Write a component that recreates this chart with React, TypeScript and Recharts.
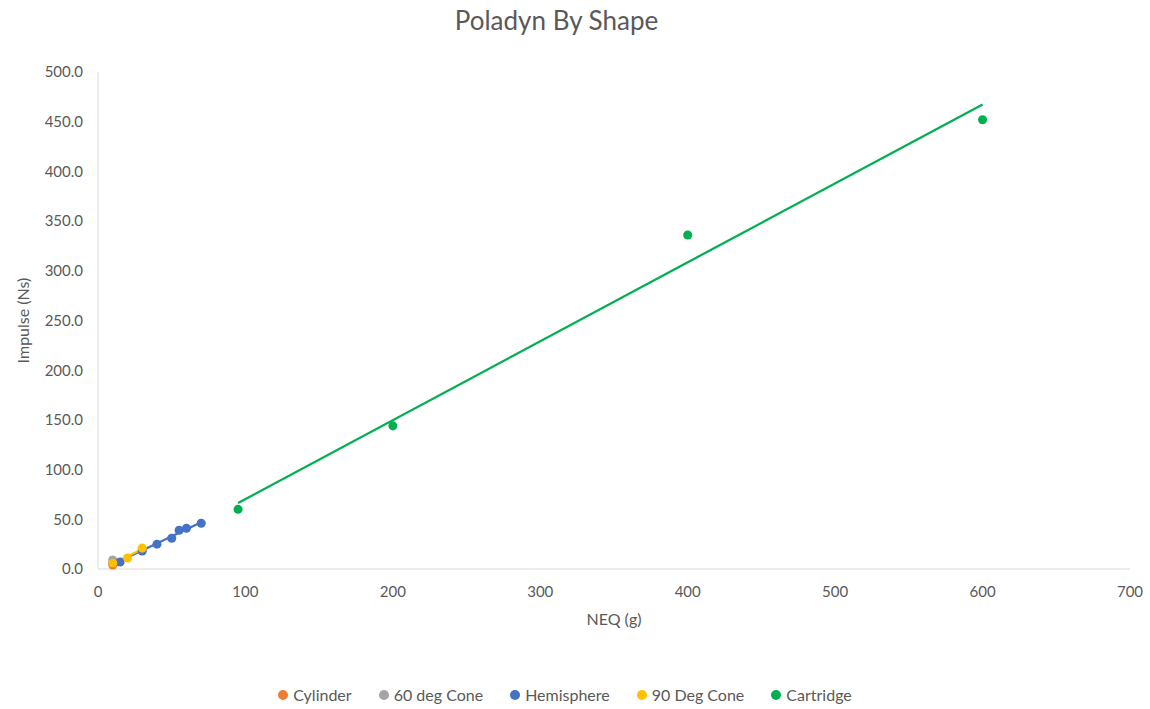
import { ScatterChart, Scatter, XAxis, YAxis, ZAxis, Legend } from 'recharts';

type Pt = { x: number; y: number };

const cylinder: Pt[] = [{ x: 10, y: 4 }];
const cone60: Pt[] = [
  { x: 10, y: 9 },
  { x: 30, y: 19 },
];
const hemisphere: Pt[] = [
  { x: 10, y: 6 },
  { x: 15, y: 7 },
  { x: 30, y: 18 },
  { x: 40, y: 25 },
  { x: 50, y: 31 },
  { x: 55, y: 39 },
  { x: 60, y: 41 },
  { x: 70, y: 46 },
];
const cone90: Pt[] = [
  { x: 10, y: 6 },
  { x: 20, y: 11 },
  { x: 30, y: 21 },
];
const cartridge: Pt[] = [
  { x: 95, y: 60 },
  { x: 200, y: 144 },
  { x: 400, y: 336 },
  { x: 600, y: 452 },
];

const xTicks = [0, 100, 200, 300, 400, 500, 600, 700];
const yTicks = [0, 50, 100, 150, 200, 250, 300, 350, 400, 450, 500];

const FONT = 'Lato, "Liberation Sans", sans-serif';
const TEXT = '#595959';

// linear least-squares trendline across the series' x range
function trend(pts: Pt[]): Pt[] {
  const n = pts.length;
  const mx = pts.reduce((s, p) => s + p.x, 0) / n;
  const my = pts.reduce((s, p) => s + p.y, 0) / n;
  let sxy = 0;
  let sxx = 0;
  pts.forEach(p => {
    sxy += (p.x - mx) * (p.y - my);
    sxx += (p.x - mx) * (p.x - mx);
  });
  const slope = sxy / sxx;
  const b = my - slope * mx;
  const xs = pts.map(p => p.x);
  const lo = Math.min(...xs);
  const hi = Math.max(...xs);
  return [
    { x: lo, y: slope * lo + b },
    { x: hi, y: slope * hi + b },
  ];
}

const series = [
  { name: 'Cylinder', data: cylinder, color: '#ED7D31', trend: false },
  { name: '60 deg Cone', data: cone60, color: '#A5A5A5', trend: false },
  { name: 'Hemisphere', data: hemisphere, color: '#4472C4', trend: true },
  { name: '90 Deg Cone', data: cone90, color: '#FFC000', trend: true },
  { name: 'Cartridge', data: cartridge, color: '#00B050', trend: true },
];

function YLabel({ viewBox }: any) {
  const cy = viewBox.y + viewBox.height / 2;
  const cx = 22;
  return (
    <text
      x={cx}
      y={cy}
      transform={`rotate(-90, ${cx}, ${cy})`}
      textAnchor="middle"
      dominantBaseline="central"
      fill={TEXT}
      fontSize={16}
      fontFamily={FONT}
    >
      Impulse (Ns)
    </text>
  );
}

function LegendContent() {
  return (
    <div style={{ display: 'flex', justifyContent: 'center', gap: 27, fontFamily: FONT, fontSize: 16, color: TEXT }}>
      {series.map(s => (
        <span key={s.name} style={{ display: 'flex', alignItems: 'center', gap: 5 }}>
          <svg width={10} height={10}>
            <circle cx={5} cy={5} r={5} fill={s.color} />
          </svg>
          {s.name}
        </span>
      ))}
    </div>
  );
}

export default function App() {
  return (
    <div style={{ position: 'absolute', left: 0, top: 0, width: 1150, height: 709, background: '#fff' }}>
      <div
        style={{
          position: 'absolute',
          top: 4,
          left: 0,
          width: 1113,
          textAlign: 'center',
          fontFamily: FONT,
          fontSize: 26,
          color: TEXT,
        }}
      >
        Poladyn By Shape
      </div>
      <ScatterChart width={1150} height={709} margin={{ top: 72, right: 20, bottom: 0, left: 0 }}>
        <XAxis
          type="number"
          dataKey="x"
          domain={[0, 700]}
          ticks={xTicks}
          height={116}
          axisLine={{ stroke: '#D9D9D9' }}
          tickLine={false}
          tickSize={0}
          tickMargin={17}
          tick={{ fill: TEXT, fontSize: 15, fontFamily: FONT }}
          label={{ value: 'NEQ (g)', position: 'insideTop', offset: 45, fill: TEXT, fontSize: 16, fontFamily: FONT }}
        />
        <YAxis
          type="number"
          dataKey="y"
          domain={[0, 500]}
          ticks={yTicks}
          width={98}
          axisLine={{ stroke: '#D9D9D9' }}
          tickLine={false}
          tickSize={0}
          tickMargin={15}
          tickFormatter={(v: number) => v.toFixed(1)}
          tick={{ fill: TEXT, fontSize: 15, fontFamily: FONT }}
          label={<YLabel />}
        />
        <ZAxis range={[90, 90]} />
        <Legend verticalAlign="bottom" height={24} content={<LegendContent />} />
        {series
          .filter(s => s.trend)
          .map(s => (
            <Scatter
              key={s.name + '-trend'}
              name={s.name + ' trend'}
              data={trend(s.data)}
              line={{ stroke: s.color, strokeWidth: 2.25 }}
              shape={() => null}
              legendType="none"
              isAnimationActive={false}
            />
          ))}
        {series.map(s => (
          <Scatter
            key={s.name}
            name={s.name}
            data={s.data}
            fill={s.color}
            shape="circle"
            isAnimationActive={false}
          />
        ))}
      </ScatterChart>
    </div>
  );
}
